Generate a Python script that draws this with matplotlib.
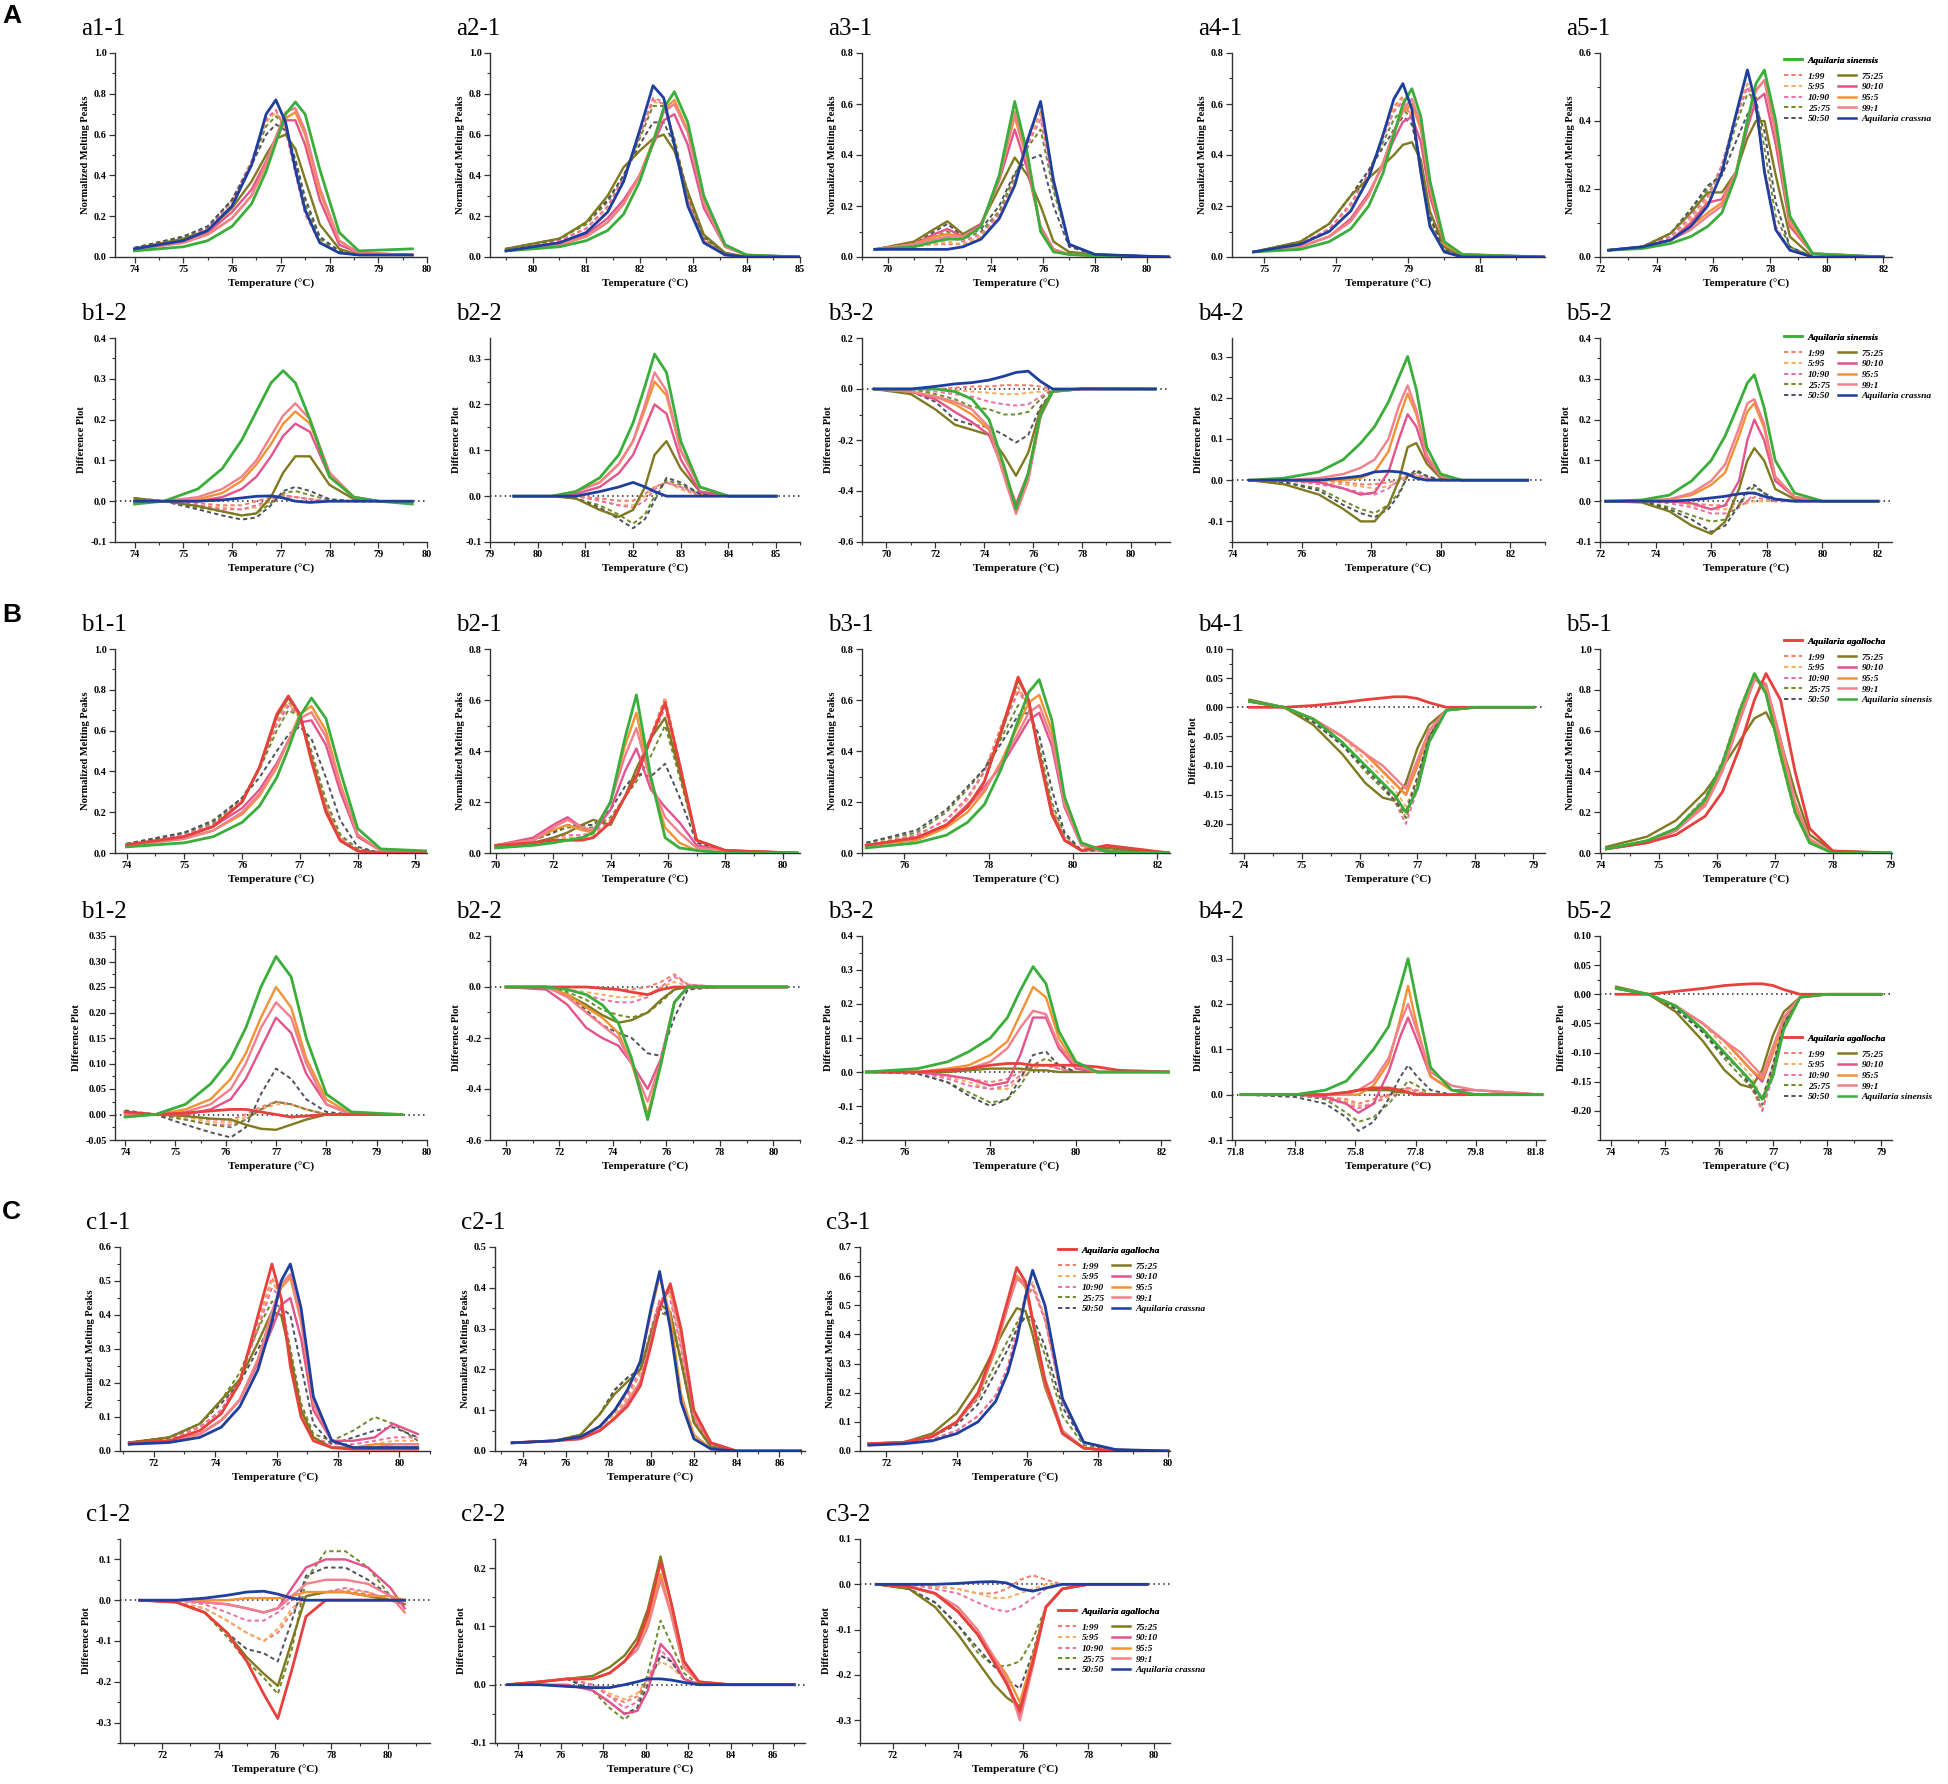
import matplotlib
matplotlib.use("Agg")
import matplotlib.pyplot as plt
from matplotlib.lines import Line2D
from matplotlib.font_manager import FontProperties
from matplotlib.ticker import AutoMinorLocator, FormatStrFormatter

plt.rcParams['axes.unicode_minus'] = False
plt.rcParams['font.family'] = ['Liberation Serif', 'DejaVu Serif']

W, H, DPI = 1949, 1784, 100

# ---------------- labels / colours ----------------
RATIOS = ['1:99', '5:95', '10:90', '25:75', '50:50', '75:25', '90:10', '95:5', '99:1']
RATIO_COLORS = ['#f07c6c', '#f6ad62', '#ec6fa5', '#6e8b2a', '#4d525e',
                '#7f7a1f', '#e4538c', '#f39234', '#f2808a']
RATIO_STYLES = ['--'] * 5 + ['-'] * 4
GREEN, BLUE, RED = '#3aae3a', '#1f3f9f', '#e8403c'
GROUPS = {
    'A': (['Aquilaria sinensis'] + RATIOS + ['Aquilaria crassna'], [GREEN] + RATIO_COLORS + [BLUE]),
    'B': (['Aquilaria agallocha'] + RATIOS + ['Aquilaria sinensis'], [RED] + RATIO_COLORS + [GREEN]),
    'C': (['Aquilaria agallocha'] + RATIOS + ['Aquilaria crassna'], [RED] + RATIO_COLORS + [BLUE]),
}
STYLES = ['-'] + RATIO_STYLES + ['-']

# ---------------- data (series order: species1, 1:99 ... 99:1, species2) ----------------
# Panel A, row 1 (melting peaks)
T_A1_1 = [74, 75, 75.5, 76, 76.4, 76.7, 76.9, 77.1, 77.3, 77.5, 77.8, 78.2, 78.6, 79.7]
Y_A1_1 = [
    [.03, .05, .08, .15, .26, .42, .56, .70, .76, .70, .43, .12, .03, .04],
    [.04, .09, .14, .27, .46, .67, .72, .63, .42, .22, .07, .02, .01, .01],
    [.045, .09, .14, .27, .46, .66, .71, .63, .43, .23, .08, .02, .01, .01],
    [.04, .09, .14, .28, .47, .68, .72, .62, .41, .21, .07, .02, .01, .01],
    [.045, .10, .15, .28, .46, .64, .69, .64, .46, .26, .09, .02, .01, .01],
    [.045, .10, .15, .28, .45, .60, .65, .62, .48, .29, .10, .03, .01, .01],
    [.04, .09, .13, .24, .37, .50, .58, .60, .53, .38, .16, .04, .01, .01],
    [.04, .08, .12, .22, .33, .47, .58, .67, .67, .55, .28, .06, .02, .01],
    [.04, .07, .11, .19, .30, .45, .57, .68, .71, .60, .32, .08, .02, .01],
    [.035, .07, .11, .19, .30, .46, .59, .71, .73, .62, .34, .08, .02, .01],
    [.04, .08, .13, .25, .45, .70, .77, .66, .43, .23, .07, .02, .01, .01],
]
T_A1_2 = [79.5, 80.5, 81, 81.4, 81.7, 82, 82.25, 82.45, 82.65, 82.9, 83.2, 83.6, 84, 85]
Y_A1_2 = [
    [.03, .05, .08, .13, .21, .37, .56, .73, .81, .66, .30, .06, .01, 0],
    [.035, .08, .14, .24, .38, .60, .78, .76, .57, .28, .08, .01, 0, 0],
    [.035, .08, .14, .24, .38, .59, .76, .75, .58, .30, .09, .02, 0, 0],
    [.035, .08, .14, .25, .39, .60, .77, .75, .56, .28, .08, .01, 0, 0],
    [.04, .09, .16, .27, .40, .58, .74, .74, .58, .30, .09, .02, 0, 0],
    [.04, .09, .17, .28, .40, .55, .66, .66, .55, .32, .10, .02, 0, 0],
    [.04, .09, .17, .30, .44, .52, .58, .60, .52, .32, .11, .02, 0, 0],
    [.03, .07, .11, .19, .28, .40, .55, .67, .70, .55, .24, .05, .01, 0],
    [.03, .06, .10, .17, .26, .40, .57, .72, .77, .62, .27, .05, .01, 0],
    [.03, .06, .10, .17, .26, .40, .56, .71, .75, .61, .27, .05, .01, 0],
    [.03, .07, .12, .22, .37, .62, .84, .78, .55, .25, .07, .01, 0, 0],
]
T_A1_3 = [69.5, 71, 71.8, 72.3, 72.9, 73.6, 74.3, 74.9, 75.4, 75.9, 76.4, 77, 78, 80.9]
Y_A1_3 = [
    [.03, .04, .06, .07, .07, .12, .32, .61, .40, .10, .02, .01, .005, 0],
    [.03, .04, .05, .05, .05, .08, .16, .30, .45, .57, .30, .05, .01, 0],
    [.03, .04, .05, .06, .05, .08, .16, .30, .45, .56, .30, .05, .01, 0],
    [.03, .04, .06, .08, .06, .09, .17, .31, .44, .54, .28, .05, .01, 0],
    [.03, .05, .08, .10, .07, .10, .18, .32, .43, .50, .26, .05, .01, 0],
    [.03, .05, .10, .13, .08, .11, .20, .33, .38, .40, .20, .04, .01, 0],
    [.03, .06, .11, .14, .09, .13, .27, .39, .32, .20, .06, .02, .01, 0],
    [.03, .05, .09, .11, .08, .13, .30, .50, .34, .12, .03, .01, .005, 0],
    [.03, .05, .08, .09, .08, .12, .31, .55, .37, .11, .03, .01, .005, 0],
    [.03, .05, .07, .08, .08, .12, .31, .57, .38, .11, .03, .01, .005, 0],
    [.03, .03, .03, .03, .04, .07, .15, .28, .46, .61, .30, .05, .01, 0],
]
T_A1_4 = [74.7, 76, 76.8, 77.4, 77.9, 78.3, 78.6, 78.85, 79.1, 79.35, 79.6, 80, 80.5, 82.8]
Y_A1_4 = [
    [.02, .03, .06, .11, .20, .33, .48, .60, .66, .55, .30, .06, .01, 0],
    [.02, .05, .11, .20, .32, .47, .59, .63, .55, .33, .13, .02, 0, 0],
    [.02, .05, .11, .20, .32, .47, .58, .62, .55, .34, .13, .02, 0, 0],
    [.02, .05, .11, .21, .33, .47, .57, .61, .54, .33, .13, .02, 0, 0],
    [.02, .06, .13, .24, .34, .45, .54, .58, .54, .36, .15, .03, 0, 0],
    [.02, .06, .13, .24, .34, .43, .50, .55, .52, .37, .16, .03, 0, 0],
    [.02, .06, .13, .24, .31, .36, .40, .44, .45, .38, .18, .04, 0, 0],
    [.02, .04, .08, .15, .25, .36, .46, .53, .55, .45, .24, .05, .01, 0],
    [.02, .04, .08, .14, .24, .37, .49, .57, .60, .50, .27, .05, .01, 0],
    [.02, .04, .08, .14, .24, .37, .49, .58, .62, .52, .28, .06, .01, 0],
    [.02, .05, .10, .18, .31, .48, .62, .68, .58, .33, .12, .02, 0, 0],
]
T_A1_5 = [72.3, 73.5, 74.5, 75.2, 75.8, 76.3, 76.8, 77.2, 77.5, 77.8, 78.2, 78.7, 79.5, 82]
Y_A1_5 = [
    [.02, .025, .04, .06, .09, .13, .24, .40, .51, .55, .40, .12, .01, 0],
    [.02, .03, .06, .11, .17, .27, .42, .51, .44, .26, .08, .02, 0, 0],
    [.02, .03, .06, .11, .17, .27, .42, .51, .44, .26, .08, .02, 0, 0],
    [.02, .03, .06, .12, .18, .27, .41, .50, .43, .26, .09, .02, 0, 0],
    [.02, .03, .07, .14, .20, .25, .39, .48, .47, .32, .12, .03, 0, 0],
    [.02, .03, .07, .14, .21, .24, .34, .42, .44, .37, .16, .03, 0, 0],
    [.02, .03, .07, .13, .19, .19, .25, .35, .40, .40, .24, .06, 0, 0],
    [.02, .03, .05, .10, .16, .17, .25, .38, .46, .48, .33, .09, .01, 0],
    [.02, .03, .05, .09, .13, .16, .25, .40, .49, .52, .36, .10, .01, 0],
    [.02, .03, .05, .08, .12, .15, .25, .40, .49, .52, .37, .11, .01, 0],
    [.02, .03, .05, .09, .15, .25, .42, .55, .45, .25, .08, .02, 0, 0],
]
# Panel A, row 2 (difference plots)
T_A2_1 = [74, 74.6, 75.3, 75.8, 76.2, 76.5, 76.8, 77.05, 77.3, 77.6, 78, 78.5, 79, 79.7]
Y_A2_1 = [
    [-.007, 0, .03, .08, .15, .22, .29, .32, .29, .20, .06, .01, 0, -.007],
    [0, 0, -.005, -.01, -.01, 0, .01, .015, .01, .005, 0, 0, 0, 0],
    [0, 0, -.01, -.015, -.02, -.015, 0, .01, .01, .005, 0, 0, 0, 0],
    [.005, 0, -.01, -.02, -.02, -.01, .005, .015, .01, .005, 0, 0, 0, 0],
    [.005, 0, -.015, -.025, -.035, -.03, -.005, .02, .025, .015, .003, 0, 0, 0],
    [.008, 0, -.02, -.035, -.045, -.04, -.01, .025, .035, .025, .005, 0, 0, 0],
    [.007, 0, -.012, -.025, -.035, -.03, .01, .07, .11, .11, .04, .005, 0, 0],
    [0, 0, 0, .01, .03, .06, .11, .16, .19, .17, .06, .01, 0, 0],
    [0, 0, .005, .02, .05, .09, .14, .19, .22, .19, .07, .01, 0, 0],
    [0, 0, .01, .03, .06, .10, .16, .21, .24, .20, .07, .01, 0, 0],
    [0, 0, 0, .003, .008, .012, .013, .008, 0, -.003, 0, 0, 0, 0],
]
T_A2_2 = [79.5, 80.3, 80.8, 81.3, 81.7, 82, 82.25, 82.45, 82.7, 83, 83.4, 84, 85]
Y_A2_2 = [
    [0, 0, .01, .04, .09, .16, .24, .31, .27, .12, .02, 0, 0],
    [0, 0, 0, -.005, -.01, -.01, .005, .02, .03, .02, .005, 0, 0],
    [0, 0, 0, -.01, -.02, -.02, 0, .02, .03, .015, 0, 0, 0],
    [0, 0, 0, -.01, -.02, -.025, -.01, .015, .03, .02, 0, 0, 0],
    [0, 0, -.005, -.02, -.04, -.06, -.04, 0, .035, .025, .005, 0, 0],
    [0, 0, -.005, -.025, -.05, -.07, -.05, -.01, .04, .03, .005, 0, 0],
    [0, 0, -.005, -.03, -.045, -.03, .02, .09, .12, .06, .01, 0, 0],
    [0, 0, .005, .02, .05, .09, .15, .20, .18, .08, .01, 0, 0],
    [0, 0, .01, .03, .07, .12, .19, .25, .22, .10, .02, 0, 0],
    [0, 0, .01, .03, .07, .12, .20, .27, .23, .10, .02, 0, 0],
    [0, 0, 0, .01, .02, .03, .02, .01, 0, 0, 0, 0, 0],
]
T_A2_3 = [69.5, 71, 72, 72.8, 73.5, 74.2, 74.8, 75.3, 75.8, 76.3, 76.8, 78, 81]
Y_A2_3 = [
    [0, 0, 0, -.01, -.04, -.12, -.30, -.47, -.33, -.10, -.01, .002, 0],
    [0, 0, 0, .005, .01, .01, .015, .015, .015, .01, 0, 0, 0],
    [0, 0, 0, -.005, -.01, -.015, -.02, -.02, -.015, -.01, 0, 0, 0],
    [0, 0, -.01, -.02, -.03, -.05, -.06, -.065, -.06, -.03, 0, 0, 0],
    [0, 0, -.02, -.04, -.07, -.08, -.10, -.10, -.09, -.04, -.005, 0, 0],
    [0, -.01, -.05, -.12, -.14, -.15, -.18, -.21, -.18, -.07, -.01, 0, 0],
    [0, -.02, -.08, -.14, -.16, -.18, -.26, -.34, -.25, -.08, -.01, 0, 0],
    [0, -.01, -.04, -.09, -.13, -.18, -.32, -.45, -.33, -.10, -.01, 0, 0],
    [0, -.01, -.03, -.06, -.10, -.16, -.33, -.48, -.35, -.11, -.01, 0, 0],
    [0, -.01, -.03, -.05, -.08, -.15, -.34, -.49, -.36, -.11, -.01, 0, 0],
    [0, 0, .01, .02, .025, .035, .05, .065, .07, .03, 0, 0, 0],
]
T_A2_4 = [74.5, 75.5, 76.5, 77.2, 77.7, 78.1, 78.5, 78.8, 79.05, 79.3, 79.6, 80, 80.6, 82.5]
Y_A2_4 = [
    [0, .005, .02, .05, .09, .13, .19, .25, .30, .22, .08, .015, 0, 0],
    [0, 0, 0, -.005, -.01, -.01, -.005, 0, .01, .01, .005, 0, 0, 0],
    [0, 0, -.005, -.01, -.015, -.02, -.015, -.005, .01, .01, .005, 0, 0, 0],
    [0, 0, -.01, -.02, -.03, -.035, -.02, 0, .015, .015, .005, 0, 0, 0],
    [0, -.005, -.02, -.05, -.07, -.08, -.06, -.03, .01, .02, .01, 0, 0, 0],
    [0, -.005, -.025, -.06, -.08, -.09, -.07, -.035, .01, .025, .01, 0, 0, 0],
    [0, -.01, -.035, -.07, -.10, -.10, -.06, 0, .08, .09, .04, .005, 0, 0],
    [0, 0, -.005, -.02, -.035, -.03, .02, .10, .16, .13, .05, .01, 0, 0],
    [0, 0, 0, 0, .005, .02, .07, .15, .21, .16, .06, .01, 0, 0],
    [0, 0, .005, .015, .03, .05, .10, .18, .23, .17, .06, .01, 0, 0],
    [0, 0, 0, .005, .01, .02, .022, .02, .015, .005, 0, 0, 0, 0],
]
T_A2_5 = [72.2, 73.5, 74.5, 75.3, 76.0, 76.5, 77.0, 77.3, 77.55, 77.9, 78.3, 79, 80, 82]
Y_A2_5 = [
    [0, .003, .015, .05, .10, .16, .24, .29, .31, .23, .10, .02, 0, 0],
    [0, 0, 0, -.005, -.01, -.01, -.005, 0, .01, .005, 0, 0, 0, 0],
    [0, 0, 0, -.01, -.02, -.02, -.01, -.005, 0, 0, 0, 0, 0, 0],
    [0, 0, -.005, -.015, -.03, -.03, -.015, 0, .02, .01, 0, 0, 0, 0],
    [0, 0, -.015, -.035, -.05, -.045, -.01, .02, .035, .02, .005, 0, 0, 0],
    [0, 0, -.02, -.045, -.075, -.06, -.01, .03, .04, .02, .005, 0, 0, 0],
    [0, -.003, -.025, -.06, -.08, -.05, .03, .10, .13, .10, .03, .005, 0, 0],
    [0, 0, 0, -.005, -.02, -.01, .05, .15, .20, .15, .05, .01, 0, 0],
    [0, 0, .005, .015, .04, .07, .16, .22, .24, .18, .06, .01, 0, 0],
    [0, 0, .005, .02, .05, .09, .18, .24, .25, .19, .06, .01, 0, 0],
    [0, 0, 0, .003, .008, .012, .018, .02, .02, .012, .005, 0, 0, 0],
]
# Panel B, row 1
T_B1_1 = [74, 75, 75.5, 76, 76.3, 76.6, 76.8, 77, 77.2, 77.45, 77.7, 78, 78.4, 79.2]
Y_B1_1 = [
    [.04, .08, .13, .25, .42, .68, .77, .68, .45, .20, .06, .01, 0, 0],
    [.04, .09, .14, .26, .42, .65, .74, .67, .47, .22, .07, .01, 0, 0],
    [.04, .09, .14, .26, .41, .64, .73, .67, .48, .23, .07, .01, 0, 0],
    [.04, .09, .14, .26, .41, .63, .72, .67, .49, .24, .08, .01, 0, 0],
    [.045, .10, .15, .27, .41, .60, .70, .67, .50, .26, .09, .02, 0, 0],
    [.045, .10, .16, .27, .37, .50, .58, .62, .56, .37, .16, .03, 0, 0],
    [.04, .08, .13, .25, .42, .67, .76, .68, .46, .21, .06, .01, 0, 0],
    [.04, .08, .13, .22, .31, .44, .55, .64, .65, .53, .30, .08, .01, 0],
    [.035, .07, .11, .19, .28, .42, .55, .68, .72, .60, .34, .09, .01, 0],
    [.035, .07, .11, .20, .29, .43, .55, .66, .69, .57, .33, .09, .01, 0],
    [.03, .05, .08, .15, .23, .37, .51, .67, .76, .66, .40, .12, .02, .01],
]
T_B1_2 = [70, 71.3, 72, 72.5, 73, 73.4, 74, 74.5, 74.9, 75.4, 75.9, 76.4, 77, 78, 80.5]
Y_B1_2 = [
    [.03, .04, .05, .05, .05, .06, .12, .22, .30, .45, .59, .35, .05, .01, 0],
    [.03, .04, .05, .06, .06, .07, .12, .22, .30, .46, .61, .36, .05, .01, 0],
    [.03, .04, .05, .06, .06, .07, .12, .22, .30, .45, .60, .35, .05, .01, 0],
    [.03, .04, .06, .07, .07, .08, .13, .22, .30, .44, .57, .33, .05, .01, 0],
    [.03, .05, .08, .10, .10, .10, .14, .22, .28, .38, .50, .30, .05, .01, 0],
    [.03, .05, .08, .11, .11, .11, .17, .26, .31, .30, .35, .22, .04, .01, 0],
    [.02, .04, .06, .08, .11, .13, .11, .22, .33, .45, .53, .32, .05, .01, 0],
    [.03, .06, .11, .14, .10, .08, .17, .32, .41, .25, .18, .12, .03, .01, 0],
    [.03, .05, .09, .11, .09, .08, .20, .42, .55, .28, .10, .04, .01, 0, 0],
    [.03, .05, .10, .13, .10, .09, .20, .38, .49, .28, .14, .08, .02, .01, 0],
    [.02, .03, .04, .05, .06, .08, .20, .45, .62, .30, .06, .02, .01, 0, 0],
]
T_B1_3 = [75.1, 76.3, 77, 77.5, 77.9, 78.3, 78.7, 78.95, 79.2, 79.5, 79.8, 80.2, 80.8, 82.3]
Y_B1_3 = [
    [.03, .06, .11, .18, .28, .48, .69, .60, .38, .15, .05, .01, .03, 0],
    [.03, .07, .13, .21, .32, .50, .65, .58, .38, .16, .05, .01, .02, 0],
    [.03, .07, .13, .21, .32, .49, .64, .58, .39, .17, .05, .01, .02, 0],
    [.03, .07, .13, .22, .32, .48, .63, .58, .40, .18, .06, .01, .01, 0],
    [.04, .08, .16, .25, .33, .45, .58, .56, .42, .20, .07, .01, .01, 0],
    [.04, .09, .17, .26, .33, .43, .54, .55, .46, .25, .08, .01, .01, 0],
    [.03, .06, .11, .18, .28, .47, .68, .60, .39, .16, .05, .01, .02, 0],
    [.03, .06, .11, .19, .26, .34, .45, .52, .55, .42, .18, .03, .005, 0],
    [.03, .05, .10, .16, .24, .36, .50, .59, .62, .48, .20, .03, .005, 0],
    [.03, .06, .11, .18, .25, .35, .47, .55, .58, .45, .19, .03, .005, 0],
    [.02, .04, .07, .12, .19, .33, .52, .63, .68, .52, .22, .04, .005, 0],
]
T_B1_4 = [74.1, 74.7, 75.2, 75.7, 76.1, 76.4, 76.6, 76.8, 77.0, 77.2, 77.5, 78, 79]
Y_B1_4 = [
    [0, 0, .003, .008, .013, .016, .018, .018, .015, .008, 0, 0, 0],
    [.01, 0, -.02, -.06, -.10, -.13, -.15, -.19, -.13, -.05, -.005, 0, 0],
    [.01, 0, -.02, -.05, -.09, -.12, -.14, -.17, -.12, -.05, -.005, 0, 0],
    [.01, 0, -.02, -.06, -.10, -.13, -.16, -.20, -.14, -.05, -.005, 0, 0],
    [.012, 0, -.025, -.065, -.11, -.14, -.16, -.19, -.13, -.05, -.005, 0, 0],
    [.012, 0, -.025, -.065, -.105, -.135, -.16, -.18, -.12, -.05, -.005, 0, 0],
    [.013, 0, -.03, -.08, -.13, -.155, -.16, -.13, -.07, -.03, -.005, 0, 0],
    [.01, 0, -.02, -.05, -.08, -.11, -.13, -.15, -.10, -.04, -.005, 0, 0],
    [.01, 0, -.02, -.05, -.08, -.11, -.13, -.15, -.10, -.04, -.005, 0, 0],
    [.01, 0, -.02, -.05, -.08, -.10, -.12, -.14, -.09, -.04, -.005, 0, 0],
    [.01, 0, -.02, -.06, -.10, -.13, -.15, -.18, -.14, -.06, -.005, 0, 0],
]
T_B1_5 = [74.1, 74.8, 75.3, 75.8, 76.1, 76.4, 76.65, 76.85, 77.1, 77.35, 77.6, 78, 79]
Y_B1_5 = [
    [.02, .05, .09, .18, .30, .52, .75, .88, .75, .40, .12, .01, 0],
    [.02, .06, .12, .27, .45, .71, .88, .78, .47, .19, .05, 0, 0],
    [.02, .06, .12, .27, .45, .71, .88, .78, .47, .19, .05, 0, 0],
    [.02, .06, .12, .27, .45, .70, .87, .78, .48, .20, .05, 0, 0],
    [.02, .06, .12, .26, .44, .70, .87, .79, .49, .21, .05, 0, 0],
    [.02, .06, .12, .26, .44, .69, .86, .79, .50, .22, .06, 0, 0],
    [.03, .08, .16, .30, .42, .55, .66, .69, .55, .30, .09, .01, 0],
    [.02, .05, .11, .24, .41, .66, .85, .82, .55, .24, .06, 0, 0],
    [.02, .06, .12, .25, .43, .68, .86, .80, .52, .22, .06, 0, 0],
    [.02, .05, .11, .23, .40, .65, .85, .83, .56, .25, .07, 0, 0],
    [.02, .06, .12, .26, .44, .70, .88, .78, .48, .20, .05, 0, 0],
]
# Panel B, row 2
T_B2_1 = [74, 74.6, 75.2, 75.7, 76.1, 76.4, 76.7, 77, 77.3, 77.6, 78, 78.5, 79.5]
Y_B2_1 = [
    [.005, 0, .003, .007, .01, .01, .005, 0, -.005, -.003, 0, 0, 0],
    [.005, 0, -.005, -.01, -.01, 0, .015, .025, .02, .01, 0, 0, 0],
    [.005, 0, -.005, -.015, -.015, -.005, .01, .02, .02, .01, 0, 0, 0],
    [.005, 0, -.01, -.02, -.02, -.01, .01, .025, .02, .01, 0, 0, 0],
    [.005, 0, -.01, -.02, -.025, -.01, .01, .025, .02, .01, 0, 0, 0],
    [.008, 0, -.02, -.035, -.045, -.025, .04, .09, .07, .03, .005, 0, 0],
    [.005, 0, -.003, -.008, -.01, -.02, -.028, -.03, -.02, -.01, 0, 0, 0],
    [0, 0, 0, .01, .03, .07, .13, .19, .16, .08, .02, 0, 0],
    [0, 0, .01, .03, .07, .12, .19, .25, .21, .11, .03, 0, 0],
    [0, 0, .005, .02, .05, .10, .17, .22, .19, .10, .02, 0, 0],
    [-.005, 0, .02, .06, .11, .17, .25, .31, .27, .15, .04, .005, 0],
]
T_B2_2 = [70, 71.5, 72.3, 73, 73.6, 74.2, 74.7, 75.3, 75.8, 76.3, 76.8, 78, 80.5]
Y_B2_2 = [
    [0, 0, 0, 0, -.005, -.01, -.02, -.03, -.01, 0, 0, 0, 0],
    [0, 0, 0, 0, -.005, -.01, -.01, 0, .02, .05, .01, 0, 0],
    [0, 0, -.01, -.02, -.03, -.04, -.04, -.03, 0, .02, .005, 0, 0],
    [0, 0, -.01, -.03, -.05, -.06, -.06, -.04, 0, .04, .01, 0, 0],
    [0, 0, -.02, -.05, -.09, -.11, -.12, -.10, -.06, -.01, 0, 0, 0],
    [0, 0, -.03, -.09, -.15, -.18, -.20, -.26, -.27, -.12, -.01, 0, 0],
    [0, 0, -.03, -.07, -.11, -.14, -.13, -.10, -.05, -.01, 0, 0, 0],
    [0, -.01, -.07, -.16, -.20, -.23, -.30, -.40, -.28, -.06, 0, 0, 0],
    [0, 0, -.03, -.08, -.12, -.18, -.30, -.50, -.30, -.06, 0, 0, 0],
    [0, 0, -.04, -.10, -.15, -.20, -.30, -.45, -.29, -.06, 0, 0, 0],
    [0, 0, -.01, -.03, -.07, -.14, -.28, -.52, -.30, -.06, 0, 0, 0],
]
T_B2_3 = [75.1, 76.3, 77, 77.5, 78, 78.4, 78.7, 79, 79.3, 79.6, 80, 80.5, 81, 82.2]
Y_B2_3 = [
    [0, 0, .005, .01, .02, .025, .025, .02, .02, .02, .02, .015, .005, 0],
    [0, 0, -.01, -.02, -.03, -.02, 0, .02, .02, .01, 0, 0, 0, 0],
    [0, 0, -.015, -.03, -.05, -.05, -.02, .01, .02, .01, 0, 0, 0, 0],
    [0, 0, -.02, -.04, -.05, -.04, -.01, .02, .02, .01, 0, 0, 0, 0],
    [0, -.005, -.03, -.06, -.09, -.08, -.04, .02, .04, .02, 0, 0, 0, 0],
    [0, -.005, -.03, -.07, -.10, -.08, -.02, .05, .06, .02, 0, 0, 0, 0],
    [0, 0, 0, .005, .01, .01, .01, .005, .005, 0, 0, 0, 0, 0],
    [0, 0, -.01, -.02, -.04, -.03, .05, .16, .16, .07, .01, 0, 0, 0],
    [0, 0, .01, .02, .05, .09, .17, .25, .22, .10, .02, 0, 0, 0],
    [0, 0, .005, .01, .03, .07, .13, .18, .17, .08, .02, 0, 0, 0],
    [0, .01, .03, .06, .10, .16, .24, .31, .26, .12, .03, 0, 0, 0],
]
T_B2_4 = [72, 73.8, 74.8, 75.5, 75.9, 76.4, 76.9, 77.3, 77.55, 77.85, 78.3, 79, 79.8, 82]
Y_B2_4 = [
    [0, 0, 0, .005, .01, .015, .015, .01, .005, 0, 0, 0, 0, 0],
    [0, 0, -.005, -.01, -.02, -.01, 0, .01, .015, .01, 0, 0, 0, 0],
    [0, 0, -.005, -.015, -.025, -.02, -.005, .01, .01, .005, 0, 0, 0, 0],
    [0, 0, -.01, -.02, -.03, -.02, 0, .01, .015, .005, 0, 0, 0, 0],
    [0, 0, -.01, -.04, -.06, -.05, -.02, .01, .03, .02, 0, 0, 0, 0],
    [0, -.005, -.02, -.05, -.08, -.06, -.01, .04, .065, .04, .01, 0, 0, 0],
    [0, 0, 0, .005, .01, .01, .01, .005, .005, 0, 0, 0, 0, 0],
    [0, 0, -.005, -.02, -.04, -.02, .05, .13, .17, .12, .04, .01, .01, 0],
    [0, 0, 0, 0, 0, .02, .07, .17, .24, .15, .04, .01, 0, 0],
    [0, 0, 0, 0, .01, .03, .08, .16, .20, .14, .05, .02, .01, 0],
    [0, 0, .01, .03, .06, .10, .15, .24, .30, .20, .06, .01, 0, 0],
]
T_B2_5 = [74.1, 74.7, 75.2, 75.7, 76.1, 76.4, 76.6, 76.8, 77.0, 77.2, 77.5, 78, 79]
Y_B2_5 = [
    [0, 0, .005, .01, .015, .017, .018, .018, .015, .008, 0, 0, 0],
    [.01, 0, -.02, -.06, -.10, -.13, -.16, -.20, -.13, -.05, -.005, 0, 0],
    [.01, 0, -.02, -.05, -.09, -.12, -.14, -.18, -.12, -.05, -.005, 0, 0],
    [.01, 0, -.02, -.06, -.10, -.13, -.15, -.20, -.14, -.05, -.005, 0, 0],
    [.012, 0, -.025, -.065, -.11, -.14, -.16, -.19, -.13, -.05, -.005, 0, 0],
    [.012, 0, -.025, -.065, -.105, -.13, -.16, -.18, -.12, -.05, -.005, 0, 0],
    [.013, 0, -.03, -.08, -.13, -.155, -.16, -.13, -.07, -.03, -.005, 0, 0],
    [.01, 0, -.02, -.05, -.08, -.11, -.13, -.15, -.10, -.04, -.005, 0, 0],
    [.01, 0, -.02, -.05, -.08, -.11, -.13, -.145, -.10, -.04, -.005, 0, 0],
    [.01, 0, -.02, -.05, -.08, -.10, -.12, -.14, -.09, -.04, -.005, 0, 0],
    [.01, 0, -.02, -.06, -.10, -.13, -.15, -.18, -.14, -.06, -.005, 0, 0],
]
# Panel C, row 1
T_C1_1 = [71.2, 72.5, 73.5, 74.2, 74.8, 75.4, 75.85, 76.15, 76.45, 76.8, 77.2, 77.8, 78.5, 79.2, 79.8, 80.6]
Y_C1_1 = [
    [.025, .03, .06, .11, .20, .40, .55, .45, .25, .10, .03, .01, .005, .005, .005, .005],
    [.025, .035, .07, .12, .21, .38, .51, .45, .28, .12, .04, .01, .01, .02, .02, .02],
    [.025, .035, .07, .12, .21, .37, .50, .45, .28, .12, .04, .01, .01, .02, .03, .03],
    [.025, .035, .07, .12, .21, .36, .48, .45, .30, .13, .04, .02, .02, .03, .04, .04],
    [.025, .04, .08, .15, .23, .36, .44, .42, .30, .14, .05, .03, .06, .10, .08, .03],
    [.025, .04, .08, .14, .20, .30, .38, .42, .40, .25, .08, .02, .04, .06, .07, .04],
    [.025, .04, .08, .15, .21, .32, .41, .40, .28, .12, .04, .01, .01, .01, .01, .01],
    [.02, .03, .05, .09, .15, .26, .36, .43, .45, .33, .12, .03, .03, .04, .08, .05],
    [.02, .03, .05, .09, .15, .27, .40, .48, .51, .38, .14, .03, .01, .02, .02, .02],
    [.02, .03, .05, .09, .15, .27, .41, .49, .52, .39, .14, .03, .01, .01, .02, .02],
    [.02, .025, .04, .07, .13, .24, .38, .50, .55, .42, .16, .03, .01, .01, .01, .01],
]
T_C1_2 = [73.5, 75.5, 76.7, 77.6, 78.3, 78.9, 79.5, 80, 80.4, 80.9, 81.4, 82, 82.8, 84, 87]
Y_C1_2 = [
    [.02, .025, .03, .05, .08, .11, .16, .26, .35, .41, .30, .10, .02, 0, 0],
    [.02, .025, .035, .06, .09, .13, .19, .29, .37, .39, .26, .08, .015, 0, 0],
    [.02, .025, .035, .06, .09, .13, .19, .29, .37, .38, .26, .08, .015, 0, 0],
    [.02, .025, .035, .06, .10, .14, .20, .30, .37, .37, .25, .08, .015, 0, 0],
    [.02, .025, .04, .09, .15, .18, .20, .28, .34, .33, .22, .07, .01, 0, 0],
    [.02, .025, .04, .09, .15, .18, .20, .28, .35, .33, .22, .07, .01, 0, 0],
    [.02, .025, .04, .09, .14, .17, .20, .29, .36, .34, .22, .07, .01, 0, 0],
    [.02, .025, .03, .05, .08, .12, .17, .27, .36, .40, .29, .09, .02, 0, 0],
    [.02, .025, .035, .06, .10, .15, .22, .34, .43, .33, .14, .04, .005, 0, 0],
    [.02, .025, .03, .05, .08, .12, .17, .27, .36, .40, .29, .09, .02, 0, 0],
    [.02, .025, .035, .06, .10, .15, .22, .35, .44, .30, .12, .03, .005, 0, 0],
]
T_C1_3 = [71.5, 72.5, 73.3, 74, 74.6, 75.1, 75.45, 75.7, 75.95, 76.15, 76.5, 77, 77.6, 78.5, 80]
Y_C1_3 = [
    [.025, .03, .05, .10, .20, .37, .52, .63, .58, .45, .24, .06, .01, 0, 0],
    [.02, .03, .04, .07, .12, .19, .28, .40, .52, .56, .45, .17, .03, .005, 0],
    [.02, .03, .04, .07, .12, .19, .29, .42, .54, .58, .46, .17, .03, .005, 0],
    [.02, .03, .04, .07, .12, .19, .29, .41, .53, .57, .45, .17, .03, .005, 0],
    [.02, .03, .05, .10, .18, .30, .38, .44, .46, .44, .33, .12, .02, 0, 0],
    [.02, .03, .05, .09, .16, .27, .35, .42, .46, .46, .36, .15, .03, 0, 0],
    [.025, .03, .06, .13, .24, .36, .44, .49, .48, .40, .22, .06, .01, 0, 0],
    [.025, .03, .05, .10, .19, .35, .50, .60, .57, .45, .24, .06, .01, 0, 0],
    [.025, .03, .05, .10, .19, .35, .50, .60, .56, .44, .23, .06, .01, 0, 0],
    [.025, .03, .05, .10, .19, .36, .50, .59, .57, .45, .25, .07, .01, 0, 0],
    [.02, .025, .035, .06, .10, .17, .27, .38, .53, .62, .50, .18, .03, .005, 0],
]
# Panel C, row 2
T_C2_1 = [71.2, 72.5, 73.5, 74.3, 75, 75.6, 76.1, 76.6, 77.1, 77.8, 78.5, 79.3, 80.1, 80.6]
Y_C2_1 = [
    [0, -.005, -.03, -.08, -.15, -.23, -.29, -.17, -.04, 0, 0, 0, 0, 0],
    [0, -.005, -.02, -.05, -.08, -.10, -.08, -.03, .01, .02, .02, .015, 0, -.01],
    [0, -.005, -.02, -.05, -.08, -.10, -.07, -.02, .01, .02, .025, .02, 0, -.01],
    [0, 0, -.01, -.03, -.05, -.05, -.03, 0, .01, .02, .03, .02, 0, -.01],
    [0, -.005, -.03, -.09, -.15, -.19, -.23, -.12, .05, .12, .12, .08, .01, -.01],
    [0, -.005, -.03, -.08, -.12, -.13, -.15, -.05, .06, .08, .08, .05, .01, -.01],
    [0, -.005, -.03, -.08, -.14, -.18, -.21, -.10, .01, .02, .02, .01, 0, -.01],
    [0, 0, -.005, -.01, -.02, -.03, -.02, .03, .08, .10, .10, .08, .03, -.02],
    [0, 0, 0, 0, .005, .005, .005, .01, .02, .02, .02, .01, .01, 0],
    [0, 0, -.005, -.01, -.02, -.03, -.02, .01, .04, .05, .05, .04, .01, -.03],
    [0, 0, .005, .012, .02, .022, .015, .005, 0, 0, 0, 0, 0, 0],
]
T_C2_2 = [73.5, 75, 76.3, 77.5, 78.3, 79, 79.6, 80.1, 80.7, 81.2, 81.8, 82.5, 84, 87]
Y_C2_2 = [
    [0, .005, .01, .01, .02, .04, .07, .12, .21, .14, .04, .005, 0, 0],
    [0, .005, .01, 0, -.02, -.03, -.02, .01, .05, .04, .01, 0, 0, 0],
    [0, .005, .01, 0, -.015, -.025, -.015, .01, .04, .03, .01, 0, 0, 0],
    [0, .005, .01, 0, -.02, -.04, -.03, .01, .06, .04, .01, 0, 0, 0],
    [0, .005, .01, -.01, -.04, -.06, -.04, .02, .11, .07, .02, 0, 0, 0],
    [0, .005, .01, -.01, -.03, -.05, -.04, 0, .05, .04, .01, 0, 0, 0],
    [0, .005, .01, .015, .03, .05, .08, .13, .22, .14, .04, .005, 0, 0],
    [0, 0, 0, -.01, -.03, -.05, -.045, -.01, .07, .05, .01, 0, 0, 0],
    [0, .005, .01, .01, .02, .04, .07, .11, .19, .12, .03, .005, 0, 0],
    [0, .005, .01, .01, .02, .04, .06, .10, .18, .12, .03, .005, 0, 0],
    [0, 0, -.003, -.005, -.005, 0, .005, .01, .01, .008, .004, 0, 0, 0],
]
T_C2_3 = [71.5, 72.5, 73.3, 74, 74.6, 75.1, 75.5, 75.9, 76.3, 76.7, 77.2, 78, 79, 79.8]
Y_C2_3 = [
    [0, -.005, -.02, -.06, -.11, -.17, -.22, -.28, -.17, -.05, -.01, 0, 0, 0],
    [0, 0, -.005, -.01, -.02, -.02, -.01, .01, .02, .01, 0, 0, 0, 0],
    [0, 0, -.005, -.01, -.02, -.03, -.03, -.02, -.01, 0, 0, 0, 0, 0],
    [0, 0, -.01, -.02, -.04, -.055, -.06, -.05, -.03, -.01, 0, 0, 0, 0],
    [0, -.01, -.04, -.09, -.15, -.18, -.18, -.17, -.12, -.05, -.01, 0, 0, 0],
    [0, -.01, -.04, -.09, -.14, -.18, -.21, -.23, -.15, -.05, -.01, 0, 0, 0],
    [0, -.01, -.05, -.11, -.17, -.22, -.25, -.27, -.16, -.05, -.01, 0, 0, 0],
    [0, -.005, -.02, -.06, -.11, -.17, -.22, -.29, -.17, -.05, -.01, 0, 0, 0],
    [0, -.005, -.02, -.06, -.11, -.16, -.20, -.26, -.16, -.05, -.01, 0, 0, 0],
    [0, -.005, -.02, -.05, -.10, -.16, -.21, -.30, -.18, -.05, -.01, 0, 0, 0],
    [0, 0, 0, .002, .005, .006, .003, -.01, -.015, -.008, 0, 0, 0, 0],
]

PANEL_TITLES = {
    'A1': ['a1-1', 'a2-1', 'a3-1', 'a4-1', 'a5-1'],
    'A2': ['b1-2', 'b2-2', 'b3-2', 'b4-2', 'b5-2'],
    'B1': ['b1-1', 'b2-1', 'b3-1', 'b4-1', 'b5-1'],
    'B2': ['b1-2', 'b2-2', 'b3-2', 'b4-2', 'b5-2'],
    'C1': ['c1-1', 'c2-1', 'c3-1'],
    'C2': ['c1-2', 'c2-2', 'c3-2'],
}


def rng(a, b, s):
    out, k = [], 0
    while a + k * s <= b + 1e-9:
        out.append(round(a + k * s, 3) + 0.0)
        k += 1
    return out


# axis settings: (T, Y, group, kind, xlim, xticks, ylim, yticks, yfmt, xfmt)
PANELS = {
    'A1': [
        (T_A1_1, Y_A1_1, 'A', 'm', (73.6, 80), rng(74, 80, 1), (0, 1.0), rng(0, 1, .2), '%.1f', '%d'),
        (T_A1_2, Y_A1_2, 'A', 'm', (79.2, 85), rng(80, 85, 1), (0, 1.0), rng(0, 1, .2), '%.1f', '%d'),
        (T_A1_3, Y_A1_3, 'A', 'm', (69.0, 80.9), rng(70, 80, 2), (0, 0.8), rng(0, .8, .2), '%.1f', '%d'),
        (T_A1_4, Y_A1_4, 'A', 'm', (74.1, 82.8), rng(75, 81, 2), (0, 0.8), rng(0, .8, .2), '%.1f', '%d'),
        (T_A1_5, Y_A1_5, 'A', 'm', (72, 82.3), rng(72, 82, 2), (0, 0.6), rng(0, .6, .2), '%.1f', '%d'),
    ],
    'A2': [
        (T_A2_1, Y_A2_1, 'A', 'd', (73.6, 80), rng(74, 80, 1), (-0.1, 0.4), rng(-.1, .4, .1), '%.1f', '%d'),
        (T_A2_2, Y_A2_2, 'A', 'd', (79, 85.5), rng(79, 85, 1), (-0.1, 0.345), rng(-.1, .3, .1), '%.1f', '%d'),
        (T_A2_3, Y_A2_3, 'A', 'd', (69, 81.6), rng(70, 80, 2), (-0.6, 0.2), rng(-.6, .2, .2), '%.1f', '%d'),
        (T_A2_4, Y_A2_4, 'A', 'd', (74, 83), rng(74, 82, 2), (-0.15, 0.345), rng(-.1, .3, .1), '%.1f', '%d'),
        (T_A2_5, Y_A2_5, 'A', 'd', (72, 82.5), rng(72, 82, 2), (-0.1, 0.4), rng(-.1, .4, .1), '%.1f', '%d'),
    ],
    'B1': [
        (T_B1_1, Y_B1_1, 'B', 'm', (73.8, 79.2), rng(74, 79, 1), (0, 1.0), rng(0, 1, .2), '%.1f', '%d'),
        (T_B1_2, Y_B1_2, 'B', 'm', (69.8, 80.6), rng(70, 80, 2), (0, 0.8), rng(0, .8, .2), '%.1f', '%d'),
        (T_B1_3, Y_B1_3, 'B', 'm', (75, 82.3), rng(76, 82, 2), (0, 0.8), rng(0, .8, .2), '%.1f', '%d'),
        (T_B1_4, Y_B1_4, 'B', 'd', (73.8, 79.2), rng(74, 79, 1), (-0.25, 0.10), rng(-.2, .1, .05), '%.2f', '%d'),
        (T_B1_5, Y_B1_5, 'B', 'm', (73.99, 79.02), rng(74, 79, 1), (0, 1.0), rng(0, 1, .2), '%.1f', '%d'),
    ],
    'B2': [
        (T_B2_1, Y_B2_1, 'B', 'd', (73.8, 80), rng(74, 80, 1), (-0.05, 0.35), rng(-.05, .35, .05), '%.2f', '%d'),
        (T_B2_2, Y_B2_2, 'B', 'd', (69.4, 81), rng(70, 80, 2), (-0.6, 0.2), rng(-.6, .2, .2), '%.1f', '%d'),
        (T_B2_3, Y_B2_3, 'B', 'd', (75, 82.2), rng(76, 82, 2), (-0.2, 0.4), rng(-.2, .4, .1), '%.1f', '%d'),
        (T_B2_4, Y_B2_4, 'B', 'd', (71.7, 82.1), rng(71.8, 81.8, 2), (-0.1, 0.35), rng(-.1, .3, .1), '%.1f', '%.1f'),
        (T_B2_5, Y_B2_5, 'B', 'd', (73.8, 79.2), rng(74, 79, 1), (-0.25, 0.10), rng(-.2, .1, .05), '%.2f', '%d'),
    ],
    'C1': [
        (T_C1_1, Y_C1_1, 'C', 'm', (70.9, 81), rng(72, 80, 2), (0, 0.6), rng(0, .6, .1), '%.1f', '%d'),
        (T_C1_2, Y_C1_2, 'C', 'm', (72.7, 87.2), rng(74, 86, 2), (0, 0.5), rng(0, .5, .1), '%.1f', '%d'),
        (T_C1_3, Y_C1_3, 'C', 'm', (71.25, 80.05), rng(72, 80, 2), (0, 0.7), rng(0, .7, .1), '%.1f', '%d'),
    ],
    'C2': [
        (T_C2_1, Y_C2_1, 'C', 'd', (70.5, 81.5), rng(72, 80, 2), (-0.35, 0.15), rng(-.3, .1, .1), '%.1f', '%d'),
        (T_C2_2, Y_C2_2, 'C', 'd', (72.9, 87.5), rng(74, 86, 2), (-0.1, 0.25), rng(-.1, .2, .1), '%.1f', '%d'),
        (T_C2_3, Y_C2_3, 'C', 'd', (71, 80.5), rng(72, 80, 2), (-0.35, 0.1), rng(-.3, .1, .1), '%.1f', '%d'),
    ],
}

# ---------------- layout (pixels) ----------------
ROWS = {'A1': (53, 257), 'A2': (338, 542), 'B1': (649, 853),
        'B2': (936, 1140), 'C1': (1247, 1451), 'C2': (1539, 1743)}
AB_COLS = [(115, 427), (490, 800), (862, 1170), (1232, 1545), (1600, 1892)]
C_COLS = [(120, 430), (495, 805), (860, 1170)]
LEGENDS = {('A1', 4): (1784, 56), ('A2', 4): (1784, 333), ('B1', 4): (1784, 637),
           ('B2', 4): (1784, 1034), ('C1', 2): (1058, 1246), ('C2', 2): (1058, 1607)}
SECTIONS = [('A', 4), ('B', 603), ('C', 1200)]

fig = plt.figure(figsize=(W / DPI, H / DPI), dpi=DPI)
fig.patch.set_facecolor('white')

TICKFONT = dict(family='Liberation Serif', weight='bold', size=7.3)
LEGFONT = FontProperties(family='Liberation Serif', weight='bold', style='italic', size=6.8)


def add_legend(group, x, y):
    labels, colors = GROUPS[group]
    handles = [Line2D([], [], color=colors[i], ls=STYLES[i],
                      lw=1.8 if STYLES[i] == '-' else 1.4,
                      dashes=(2.2, 1.6) if STYLES[i] == '--' else (None, None))
               for i in range(11)]
    common = dict(frameon=False, prop=LEGFONT, handlelength=1.9, handletextpad=0.6,
                  borderpad=0, borderaxespad=0, labelspacing=0.22, loc='upper left')
    l1 = fig.legend([handles[0]], [labels[0]], bbox_to_anchor=(x / W, 1 - y / H), **common)
    fig.add_artist(l1)
    fig.legend(handles[1:], labels[1:], ncol=2, columnspacing=0.9,
               bbox_to_anchor=(x / W, 1 - (y + 16) / H), **common)


for row, panels in PANELS.items():
    top, bot = ROWS[row]
    cols = C_COLS if row.startswith('C') else AB_COLS
    for ci, (T, Y, group, kind, xlim, xticks, ylim, yticks, yfmt, xfmt) in enumerate(panels):
        left, right = cols[ci]
        ax = fig.add_axes([left / W, 1 - bot / H, (right - left) / W, (bot - top) / H])
        labels, colors = GROUPS[group]
        if kind == 'd':
            ax.axhline(0, color='#222222', ls=(0, (1, 2.2)), lw=1.1, zorder=1)
        order = list(range(1, 10)) + [0, 10]
        for i in order:
            if STYLES[i] == '--':
                ax.plot(T, Y[i], color=colors[i], lw=1.4, ls='--', dashes=(2.2, 1.6), zorder=2)
            else:
                ax.plot(T, Y[i], color=colors[i], lw=2.0 if i in (0, 10) else 1.7,
                        zorder=3 if i in (0, 10) else 2.5, solid_joinstyle='round')
        ax.set_xlim(*xlim)
        ax.set_ylim(*ylim)
        ax.set_xticks(xticks)
        ax.set_yticks(yticks)
        ax.xaxis.set_major_formatter(FormatStrFormatter(xfmt))
        ax.yaxis.set_major_formatter(FormatStrFormatter(yfmt))
        ax.xaxis.set_minor_locator(AutoMinorLocator(2))
        ax.yaxis.set_minor_locator(AutoMinorLocator(2))
        for s in ('top', 'right'):
            ax.spines[s].set_visible(False)
        for s in ('left', 'bottom'):
            ax.spines[s].set_color('#333333')
            ax.spines[s].set_linewidth(1.0)
        ax.tick_params(which='major', direction='out', length=4, width=0.9, color='#333333', pad=2)
        ax.tick_params(which='minor', direction='out', length=2.3, width=0.8, color='#333333')
        for lab in ax.get_xticklabels() + ax.get_yticklabels():
            lab.set_fontproperties(FontProperties(**TICKFONT))
        ax.set_xlabel('Temperature (°C)', family='Liberation Serif', weight='bold', size=8.2, labelpad=3)
        ax.set_ylabel('Normalized Melting Peaks' if kind == 'm' else 'Difference Plot',
                      family='Liberation Serif', weight='bold', size=7.6, labelpad=3)
        fig.text((left - 34) / W, 1 - (top - 18) / H, PANEL_TITLES[row][ci],
                 family='Liberation Serif', size=18, ha='left', va='baseline')
        if (row, ci) in LEGENDS:
            add_legend(group, *LEGENDS[(row, ci)])

for letter, ypx in SECTIONS:
    fig.text(2 / W, 1 - ypx / H, letter, family='Liberation Sans', weight='bold',
             size=19, ha='left', va='top')

fig.savefig('out.png', dpi=DPI, facecolor='white')
